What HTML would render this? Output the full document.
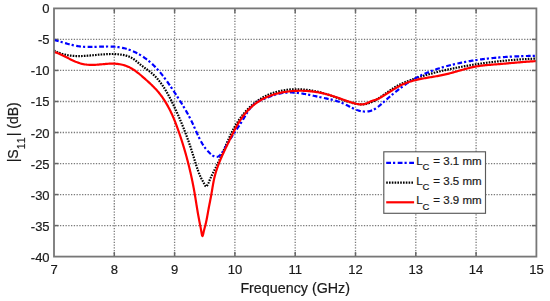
<!DOCTYPE html>
<html><head><meta charset="utf-8"><title>S11 vs Frequency</title>
<style>html,body{margin:0;padding:0;background:#fff;width:550px;height:301px;overflow:hidden}svg{display:block;filter:blur(0.35px)}</style>
</head><body>
<svg width="550" height="301" viewBox="0 0 550 301"><g stroke="#7a7a7a" stroke-width="1.3" stroke-dasharray="1.3 1.463" fill="none"><line x1="114.30" y1="8.40" x2="114.30" y2="256.60" stroke-dashoffset="-1.28"/><line x1="174.60" y1="8.40" x2="174.60" y2="256.60" stroke-dashoffset="-1.28"/><line x1="234.90" y1="8.40" x2="234.90" y2="256.60" stroke-dashoffset="-1.28"/><line x1="295.20" y1="8.40" x2="295.20" y2="256.60" stroke-dashoffset="-1.28"/><line x1="355.50" y1="8.40" x2="355.50" y2="256.60" stroke-dashoffset="-1.28"/><line x1="415.80" y1="8.40" x2="415.80" y2="256.60" stroke-dashoffset="-1.28"/><line x1="476.10" y1="8.40" x2="476.10" y2="256.60" stroke-dashoffset="-1.28"/><line x1="54.00" y1="225.58" x2="536.40" y2="225.58" stroke-dashoffset="-0.42"/><line x1="54.00" y1="194.55" x2="536.40" y2="194.55" stroke-dashoffset="-0.42"/><line x1="54.00" y1="163.53" x2="536.40" y2="163.53" stroke-dashoffset="-0.42"/><line x1="54.00" y1="132.50" x2="536.40" y2="132.50" stroke-dashoffset="-0.42"/><line x1="54.00" y1="101.48" x2="536.40" y2="101.48" stroke-dashoffset="-0.42"/><line x1="54.00" y1="70.45" x2="536.40" y2="70.45" stroke-dashoffset="-0.42"/><line x1="54.00" y1="39.42" x2="536.40" y2="39.42" stroke-dashoffset="-0.42"/></g>
<g stroke="#666" stroke-width="1.5" fill="none"><line x1="114.30" y1="256.60" x2="114.30" y2="252.10"/><line x1="114.30" y1="8.40" x2="114.30" y2="12.90"/><line x1="174.60" y1="256.60" x2="174.60" y2="252.10"/><line x1="174.60" y1="8.40" x2="174.60" y2="12.90"/><line x1="234.90" y1="256.60" x2="234.90" y2="252.10"/><line x1="234.90" y1="8.40" x2="234.90" y2="12.90"/><line x1="295.20" y1="256.60" x2="295.20" y2="252.10"/><line x1="295.20" y1="8.40" x2="295.20" y2="12.90"/><line x1="355.50" y1="256.60" x2="355.50" y2="252.10"/><line x1="355.50" y1="8.40" x2="355.50" y2="12.90"/><line x1="415.80" y1="256.60" x2="415.80" y2="252.10"/><line x1="415.80" y1="8.40" x2="415.80" y2="12.90"/><line x1="476.10" y1="256.60" x2="476.10" y2="252.10"/><line x1="476.10" y1="8.40" x2="476.10" y2="12.90"/><line x1="54.00" y1="225.58" x2="58.50" y2="225.58"/><line x1="536.40" y1="225.58" x2="531.90" y2="225.58"/><line x1="54.00" y1="194.55" x2="58.50" y2="194.55"/><line x1="536.40" y1="194.55" x2="531.90" y2="194.55"/><line x1="54.00" y1="163.53" x2="58.50" y2="163.53"/><line x1="536.40" y1="163.53" x2="531.90" y2="163.53"/><line x1="54.00" y1="132.50" x2="58.50" y2="132.50"/><line x1="536.40" y1="132.50" x2="531.90" y2="132.50"/><line x1="54.00" y1="101.48" x2="58.50" y2="101.48"/><line x1="536.40" y1="101.48" x2="531.90" y2="101.48"/><line x1="54.00" y1="70.45" x2="58.50" y2="70.45"/><line x1="536.40" y1="70.45" x2="531.90" y2="70.45"/><line x1="54.00" y1="39.42" x2="58.50" y2="39.42"/><line x1="536.40" y1="39.42" x2="531.90" y2="39.42"/></g>
<path d="M54.00,50.42 L54.97,50.95 L55.96,51.44 L56.95,51.91 L57.94,52.35 L58.94,52.75 L59.94,53.13 L60.94,53.48 L61.95,53.81 L62.95,54.11 L63.96,54.39 L64.97,54.64 L65.98,54.87 L67.00,55.07 L68.02,55.26 L69.03,55.42 L70.05,55.56 L71.08,55.69 L72.10,55.80 L73.12,55.88 L74.15,55.96 L75.18,56.01 L76.21,56.05 L77.24,56.08 L78.27,56.09 L79.30,56.09 L80.34,56.08 L81.37,56.05 L82.41,56.02 L83.45,55.97 L84.49,55.92 L85.53,55.86 L86.57,55.79 L87.61,55.72 L88.65,55.64 L89.69,55.55 L90.73,55.46 L91.78,55.37 L92.82,55.27 L93.86,55.17 L94.91,55.08 L95.95,54.98 L97.00,54.88 L98.04,54.78 L99.09,54.69 L100.13,54.60 L101.18,54.51 L102.22,54.43 L103.27,54.35 L104.31,54.28 L105.35,54.21 L106.40,54.15 L107.44,54.11 L108.48,54.07 L109.53,54.04 L110.57,54.02 L111.61,54.01 L112.65,54.02 L113.69,54.04 L114.73,54.07 L115.77,54.12 L116.80,54.18 L117.84,54.26 L118.87,54.36 L119.91,54.47 L120.94,54.61 L121.97,54.76 L123.00,54.94 L124.02,55.14 L125.03,55.37 L126.03,55.63 L127.02,55.92 L128.00,56.24 L128.97,56.59 L129.91,56.99 L130.84,57.42 L131.75,57.90 L132.64,58.42 L133.50,58.98 L134.34,59.59 L135.17,60.23 L135.98,60.89 L136.79,61.57 L137.59,62.26 L138.39,62.95 L139.19,63.64 L140.00,64.31 L140.83,64.96 L141.66,65.60 L142.49,66.23 L143.33,66.84 L144.18,67.45 L145.02,68.06 L145.87,68.66 L146.71,69.26 L147.54,69.86 L148.37,70.47 L149.19,71.09 L150.00,71.72 L150.80,72.36 L151.58,73.02 L152.35,73.69 L153.11,74.38 L153.85,75.08 L154.58,75.80 L155.30,76.53 L156.01,77.27 L156.70,78.02 L157.38,78.79 L158.05,79.57 L158.71,80.36 L159.36,81.17 L160.00,81.98 L160.63,82.80 L161.24,83.63 L161.85,84.48 L162.45,85.33 L163.04,86.19 L163.62,87.06 L164.19,87.94 L164.75,88.82 L165.30,89.71 L165.85,90.61 L166.39,91.51 L166.92,92.43 L167.44,93.34 L167.96,94.26 L168.47,95.19 L168.97,96.12 L169.47,97.05 L169.96,97.99 L170.44,98.93 L170.93,99.87 L171.40,100.82 L171.87,101.77 L172.34,102.72 L172.80,103.67 L173.26,104.62 L173.71,105.57 L174.17,106.52 L174.61,107.47 L175.06,108.42 L175.50,109.37 L175.94,110.32 L176.38,111.27 L176.81,112.22 L177.24,113.17 L177.66,114.12 L178.09,115.07 L178.51,116.02 L178.92,116.97 L179.34,117.92 L179.75,118.87 L180.16,119.82 L180.56,120.78 L180.97,121.73 L181.36,122.68 L181.76,123.64 L182.15,124.59 L182.55,125.55 L182.93,126.50 L183.32,127.46 L183.70,128.42 L184.08,129.38 L184.46,130.34 L184.83,131.30 L185.20,132.26 L185.57,133.22 L185.93,134.19 L186.30,135.15 L186.66,136.12 L187.01,137.09 L187.37,138.06 L187.72,139.03 L188.07,140.00 L188.42,140.98 L188.76,141.95 L189.10,142.93 L189.44,143.91 L189.78,144.90 L190.11,145.88 L190.45,146.87 L190.78,147.85 L191.10,148.85 L191.43,149.84 L191.75,150.83 L192.07,151.83 L192.39,152.83 L192.70,153.83 L193.01,154.84 L193.32,155.84 L193.63,156.85 L193.94,157.86 L194.24,158.87 L194.55,159.89 L194.85,160.90 L195.16,161.91 L195.47,162.92 L195.79,163.93 L196.10,164.94 L196.42,165.94 L196.75,166.94 L197.08,167.94 L197.42,168.93 L197.76,169.91 L198.12,170.89 L198.48,171.86 L198.85,172.83 L199.24,173.78 L199.63,174.73 L200.03,175.67 L200.45,176.59 L200.88,177.51 L201.33,178.42 L201.78,179.31 L202.26,180.19 L202.75,181.07 L203.25,181.96 L203.77,182.89 L204.30,183.89 L204.84,184.98 L205.39,186.02 L206.00,186.55 L206.67,186.21 L207.35,185.25 L207.94,184.13 L208.43,183.10 L208.84,182.14 L209.21,181.23 L209.56,180.34 L209.93,179.44 L210.34,178.52 L210.76,177.60 L211.20,176.66 L211.66,175.72 L212.12,174.77 L212.60,173.82 L213.08,172.87 L213.56,171.92 L214.03,170.97 L214.51,170.02 L214.98,169.08 L215.45,168.13 L215.91,167.19 L216.38,166.25 L216.84,165.30 L217.30,164.36 L217.75,163.42 L218.20,162.48 L218.65,161.54 L219.10,160.60 L219.54,159.65 L219.98,158.71 L220.41,157.77 L220.85,156.82 L221.28,155.87 L221.70,154.93 L222.12,153.97 L222.54,153.02 L222.96,152.07 L223.38,151.11 L223.79,150.16 L224.20,149.20 L224.61,148.24 L225.02,147.29 L225.43,146.33 L225.84,145.37 L226.25,144.41 L226.67,143.46 L227.08,142.50 L227.50,141.54 L227.92,140.59 L228.34,139.64 L228.77,138.69 L229.20,137.74 L229.64,136.79 L230.08,135.85 L230.52,134.90 L230.97,133.97 L231.43,133.03 L231.90,132.10 L232.37,131.17 L232.85,130.24 L233.33,129.32 L233.83,128.40 L234.33,127.49 L234.85,126.58 L235.37,125.67 L235.90,124.77 L236.45,123.88 L237.00,122.99 L237.56,122.11 L238.14,121.23 L238.72,120.36 L239.32,119.49 L239.92,118.64 L240.53,117.79 L241.16,116.94 L241.79,116.11 L242.44,115.28 L243.09,114.46 L243.76,113.65 L244.43,112.85 L245.11,112.06 L245.81,111.28 L246.51,110.51 L247.22,109.75 L247.94,108.99 L248.68,108.25 L249.42,107.52 L250.17,106.80 L250.93,106.10 L251.70,105.40 L252.48,104.72 L253.27,104.05 L254.07,103.39 L254.88,102.74 L255.70,102.11 L256.52,101.49 L257.36,100.89 L258.21,100.29 L259.06,99.72 L259.92,99.16 L260.80,98.61 L261.68,98.08 L262.57,97.56 L263.47,97.06 L264.38,96.57 L265.30,96.11 L266.23,95.65 L267.17,95.22 L268.11,94.80 L269.06,94.40 L270.02,94.01 L270.99,93.64 L271.97,93.28 L272.95,92.94 L273.94,92.62 L274.93,92.31 L275.93,92.02 L276.94,91.74 L277.95,91.48 L278.97,91.23 L279.99,91.00 L281.01,90.78 L282.04,90.58 L283.07,90.39 L284.11,90.22 L285.15,90.06 L286.19,89.91 L287.24,89.78 L288.28,89.66 L289.33,89.56 L290.38,89.47 L291.43,89.40 L292.49,89.34 L293.54,89.29 L294.59,89.26 L295.65,89.24 L296.70,89.23 L297.75,89.23 L298.80,89.25 L299.86,89.29 L300.91,89.33 L301.95,89.39 L303.00,89.46 L304.04,89.54 L305.08,89.64 L306.12,89.74 L307.16,89.86 L308.19,90.00 L309.22,90.14 L310.24,90.29 L311.27,90.46 L312.29,90.64 L313.31,90.82 L314.33,91.02 L315.34,91.23 L316.35,91.45 L317.36,91.68 L318.37,91.91 L319.37,92.16 L320.38,92.42 L321.38,92.68 L322.38,92.95 L323.38,93.24 L324.38,93.53 L325.37,93.83 L326.36,94.13 L327.36,94.44 L328.35,94.76 L329.34,95.09 L330.33,95.43 L331.31,95.77 L332.30,96.11 L333.28,96.46 L334.27,96.82 L335.25,97.18 L336.24,97.53 L337.22,97.89 L338.21,98.25 L339.19,98.61 L340.18,98.97 L341.17,99.33 L342.16,99.68 L343.14,100.03 L344.14,100.37 L345.13,100.71 L346.12,101.04 L347.12,101.37 L348.12,101.68 L349.12,101.99 L350.13,102.29 L351.13,102.57 L352.14,102.84 L353.16,103.10 L354.17,103.35 L355.19,103.57 L356.21,103.77 L357.23,103.95 L358.25,104.10 L359.27,104.21 L360.29,104.30 L361.31,104.34 L362.32,104.35 L363.34,104.31 L364.35,104.23 L365.36,104.10 L366.36,103.91 L367.36,103.68 L368.35,103.40 L369.34,103.07 L370.32,102.70 L371.30,102.30 L372.26,101.86 L373.22,101.40 L374.17,100.91 L375.11,100.39 L376.04,99.86 L376.97,99.31 L377.87,98.76 L378.77,98.19 L379.67,97.61 L380.55,97.03 L381.42,96.43 L382.29,95.84 L383.16,95.24 L384.02,94.63 L384.87,94.03 L385.73,93.42 L386.58,92.81 L387.43,92.21 L388.28,91.61 L389.13,91.01 L389.99,90.42 L390.84,89.83 L391.70,89.26 L392.56,88.69 L393.43,88.13 L394.31,87.58 L395.19,87.05 L396.08,86.53 L396.98,86.03 L397.89,85.54 L398.81,85.06 L399.73,84.60 L400.67,84.15 L401.60,83.72 L402.55,83.29 L403.50,82.88 L404.46,82.48 L405.42,82.08 L406.39,81.70 L407.36,81.32 L408.34,80.95 L409.31,80.58 L410.29,80.22 L411.27,79.86 L412.25,79.51 L413.24,79.16 L414.22,78.82 L415.21,78.48 L416.20,78.15 L417.19,77.82 L418.18,77.49 L419.17,77.17 L420.16,76.85 L421.16,76.54 L422.16,76.23 L423.15,75.92 L424.15,75.62 L425.15,75.32 L426.16,75.03 L427.16,74.74 L428.16,74.45 L429.17,74.17 L430.17,73.89 L431.18,73.61 L432.19,73.34 L433.20,73.07 L434.21,72.80 L435.22,72.54 L436.23,72.28 L437.25,72.03 L438.26,71.77 L439.28,71.52 L440.29,71.28 L441.31,71.03 L442.32,70.79 L443.34,70.55 L444.36,70.32 L445.38,70.09 L446.40,69.86 L447.42,69.63 L448.44,69.41 L449.46,69.19 L450.48,68.97 L451.50,68.75 L452.53,68.54 L453.55,68.33 L454.57,68.12 L455.60,67.91 L456.62,67.71 L457.64,67.51 L458.67,67.31 L459.69,67.11 L460.72,66.92 L461.74,66.72 L462.77,66.53 L463.79,66.35 L464.82,66.16 L465.85,65.98 L466.87,65.80 L467.90,65.62 L468.93,65.44 L469.95,65.27 L470.98,65.10 L472.01,64.93 L473.04,64.76 L474.07,64.59 L475.09,64.43 L476.12,64.27 L477.15,64.11 L478.18,63.95 L479.21,63.80 L480.24,63.65 L481.27,63.50 L482.30,63.35 L483.34,63.21 L484.37,63.06 L485.40,62.92 L486.43,62.78 L487.46,62.65 L488.50,62.51 L489.53,62.38 L490.56,62.25 L491.60,62.12 L492.63,62.00 L493.66,61.87 L494.70,61.75 L495.73,61.63 L496.77,61.51 L497.80,61.40 L498.84,61.29 L499.87,61.18 L500.91,61.07 L501.95,60.96 L502.98,60.86 L504.02,60.75 L505.06,60.65 L506.10,60.56 L507.14,60.46 L508.17,60.36 L509.21,60.27 L510.25,60.18 L511.29,60.10 L512.33,60.01 L513.37,59.93 L514.41,59.84 L515.45,59.76 L516.49,59.69 L517.53,59.61 L518.58,59.54 L519.62,59.47 L520.66,59.40 L521.70,59.33 L522.75,59.26 L523.79,59.20 L524.83,59.14 L525.88,59.08 L526.92,59.02 L527.97,58.97 L529.01,58.91 L530.06,58.86 L531.10,58.81 L532.15,58.77 L533.19,58.72 L534.24,58.68 L535.29,58.63 L536.30,58.60" fill="none" stroke="#000" stroke-width="2.2" stroke-dasharray="1.6 1.2"/>
<path d="M54.00,39.94 L54.96,40.19 L55.91,40.44 L56.86,40.70 L57.80,40.96 L58.75,41.23 L59.69,41.51 L60.63,41.78 L61.57,42.06 L62.51,42.34 L63.45,42.61 L64.39,42.89 L65.33,43.16 L66.26,43.43 L67.20,43.70 L68.14,43.96 L69.08,44.22 L70.02,44.47 L70.96,44.71 L71.90,44.94 L72.85,45.17 L73.79,45.38 L74.74,45.58 L75.69,45.77 L76.64,45.95 L77.59,46.11 L78.55,46.26 L79.51,46.39 L80.47,46.50 L81.43,46.60 L82.40,46.69 L83.37,46.76 L84.35,46.82 L85.32,46.86 L86.30,46.90 L87.28,46.93 L88.26,46.94 L89.24,46.95 L90.22,46.95 L91.21,46.94 L92.20,46.93 L93.18,46.91 L94.17,46.88 L95.16,46.85 L96.15,46.82 L97.14,46.79 L98.13,46.76 L99.12,46.72 L100.11,46.69 L101.10,46.65 L102.09,46.62 L103.08,46.59 L104.07,46.57 L105.05,46.55 L106.04,46.53 L107.03,46.52 L108.01,46.52 L108.99,46.53 L109.97,46.54 L110.95,46.56 L111.93,46.59 L112.91,46.64 L113.88,46.69 L114.85,46.76 L115.82,46.84 L116.79,46.94 L117.75,47.05 L118.71,47.18 L119.67,47.32 L120.62,47.48 L121.58,47.66 L122.52,47.86 L123.47,48.07 L124.41,48.30 L125.34,48.55 L126.27,48.81 L127.20,49.09 L128.12,49.39 L129.04,49.70 L129.95,50.03 L130.86,50.38 L131.76,50.74 L132.66,51.11 L133.55,51.50 L134.44,51.90 L135.32,52.32 L136.19,52.75 L137.06,53.20 L137.92,53.66 L138.78,54.13 L139.63,54.61 L140.47,55.11 L141.30,55.62 L142.13,56.14 L142.95,56.68 L143.76,57.22 L144.56,57.78 L145.36,58.35 L146.14,58.92 L146.92,59.51 L147.70,60.11 L148.46,60.72 L149.21,61.34 L149.96,61.97 L150.69,62.61 L151.42,63.26 L152.13,63.92 L152.84,64.58 L153.54,65.25 L154.24,65.94 L154.92,66.63 L155.60,67.32 L156.27,68.03 L156.93,68.74 L157.58,69.46 L158.23,70.19 L158.87,70.92 L159.51,71.66 L160.13,72.40 L160.76,73.15 L161.37,73.91 L161.98,74.67 L162.59,75.43 L163.19,76.20 L163.79,76.98 L164.38,77.76 L164.96,78.54 L165.54,79.33 L166.12,80.12 L166.69,80.91 L167.26,81.71 L167.83,82.51 L168.39,83.32 L168.95,84.12 L169.51,84.93 L170.06,85.74 L170.62,86.55 L171.17,87.36 L171.71,88.17 L172.26,88.99 L172.81,89.80 L173.35,90.62 L173.89,91.44 L174.43,92.25 L174.97,93.07 L175.51,93.89 L176.05,94.70 L176.58,95.52 L177.11,96.34 L177.65,97.16 L178.18,97.98 L178.70,98.80 L179.23,99.62 L179.75,100.44 L180.27,101.27 L180.79,102.09 L181.31,102.92 L181.82,103.75 L182.33,104.58 L182.83,105.41 L183.34,106.24 L183.84,107.08 L184.34,107.92 L184.83,108.75 L185.32,109.59 L185.81,110.44 L186.29,111.28 L186.77,112.13 L187.24,112.98 L187.72,113.83 L188.18,114.69 L188.65,115.54 L189.10,116.40 L189.56,117.27 L190.01,118.13 L190.45,119.00 L190.89,119.87 L191.32,120.75 L191.75,121.62 L192.18,122.50 L192.60,123.39 L193.01,124.28 L193.42,125.17 L193.82,126.06 L194.22,126.96 L194.62,127.86 L195.02,128.76 L195.41,129.66 L195.81,130.56 L196.21,131.46 L196.61,132.35 L197.01,133.25 L197.41,134.15 L197.82,135.04 L198.24,135.93 L198.66,136.82 L199.08,137.70 L199.52,138.58 L199.96,139.45 L200.42,140.32 L200.88,141.18 L201.35,142.04 L201.84,142.88 L202.34,143.73 L202.86,144.56 L203.38,145.38 L203.93,146.20 L204.49,147.00 L205.07,147.80 L205.66,148.58 L206.28,149.35 L206.91,150.11 L207.57,150.86 L208.25,151.60 L208.95,152.32 L209.67,153.03 L210.42,153.72 L211.19,154.40 L211.97,155.03 L212.78,155.60 L213.59,156.09 L214.41,156.49 L215.23,156.77 L216.05,156.91 L216.86,156.89 L217.66,156.72 L218.44,156.39 L219.19,155.92 L219.90,155.33 L220.59,154.64 L221.24,153.88 L221.86,153.07 L222.44,152.23 L223.00,151.37 L223.54,150.50 L224.05,149.62 L224.56,148.73 L225.05,147.85 L225.55,146.96 L226.04,146.08 L226.54,145.21 L227.04,144.35 L227.55,143.49 L228.06,142.64 L228.57,141.79 L229.09,140.95 L229.61,140.12 L230.13,139.29 L230.66,138.47 L231.19,137.65 L231.72,136.83 L232.25,136.02 L232.78,135.21 L233.32,134.40 L233.85,133.60 L234.39,132.79 L234.92,131.99 L235.46,131.19 L236.00,130.39 L236.53,129.58 L237.07,128.78 L237.61,127.98 L238.14,127.17 L238.67,126.36 L239.21,125.55 L239.74,124.74 L240.27,123.92 L240.79,123.10 L241.32,122.28 L241.84,121.45 L242.36,120.61 L242.87,119.77 L243.39,118.93 L243.89,118.08 L244.40,117.22 L244.91,116.37 L245.42,115.51 L245.93,114.65 L246.45,113.80 L246.97,112.96 L247.50,112.12 L248.04,111.29 L248.60,110.48 L249.16,109.68 L249.74,108.89 L250.33,108.12 L250.94,107.37 L251.57,106.65 L252.22,105.94 L252.90,105.26 L253.59,104.61 L254.32,103.99 L255.06,103.40 L255.84,102.84 L256.65,102.32 L257.48,101.83 L258.35,101.37 L259.23,100.94 L260.13,100.53 L261.04,100.13 L261.97,99.75 L262.90,99.37 L263.83,98.99 L264.75,98.61 L265.68,98.24 L266.61,97.86 L267.54,97.49 L268.47,97.13 L269.40,96.77 L270.33,96.42 L271.26,96.08 L272.19,95.74 L273.13,95.42 L274.06,95.11 L275.00,94.81 L275.93,94.53 L276.87,94.26 L277.81,94.00 L278.75,93.77 L279.69,93.55 L280.64,93.35 L281.58,93.17 L282.53,93.02 L283.49,92.88 L284.44,92.77 L285.39,92.67 L286.35,92.60 L287.31,92.54 L288.27,92.50 L289.23,92.48 L290.19,92.48 L291.16,92.49 L292.13,92.52 L293.09,92.56 L294.06,92.62 L295.03,92.69 L296.00,92.77 L296.97,92.87 L297.94,92.98 L298.91,93.09 L299.89,93.22 L300.86,93.36 L301.83,93.51 L302.81,93.67 L303.78,93.83 L304.75,94.00 L305.73,94.18 L306.70,94.37 L307.68,94.56 L308.65,94.75 L309.62,94.95 L310.59,95.15 L311.57,95.36 L312.54,95.57 L313.51,95.77 L314.48,95.98 L315.44,96.19 L316.41,96.40 L317.38,96.61 L318.34,96.82 L319.30,97.03 L320.27,97.23 L321.23,97.43 L322.18,97.62 L323.14,97.82 L324.10,98.01 L325.05,98.21 L326.00,98.41 L326.95,98.60 L327.90,98.81 L328.84,99.01 L329.78,99.22 L330.72,99.44 L331.66,99.66 L332.59,99.90 L333.53,100.14 L334.46,100.39 L335.38,100.65 L336.30,100.92 L337.22,101.20 L338.14,101.50 L339.05,101.81 L339.96,102.13 L340.87,102.48 L341.77,102.83 L342.67,103.21 L343.56,103.61 L344.46,104.02 L345.34,104.45 L346.23,104.89 L347.12,105.34 L348.00,105.79 L348.89,106.25 L349.77,106.71 L350.66,107.16 L351.55,107.61 L352.45,108.05 L353.35,108.48 L354.25,108.89 L355.16,109.28 L356.08,109.65 L357.01,110.00 L357.94,110.32 L358.88,110.60 L359.84,110.86 L360.80,111.07 L361.77,111.25 L362.75,111.39 L363.73,111.48 L364.72,111.54 L365.70,111.55 L366.67,111.51 L367.64,111.43 L368.59,111.30 L369.53,111.12 L370.46,110.89 L371.36,110.61 L372.25,110.28 L373.11,109.91 L373.96,109.49 L374.80,109.03 L375.61,108.53 L376.42,108.00 L377.21,107.44 L378.00,106.86 L378.77,106.26 L379.54,105.63 L380.29,104.99 L381.05,104.34 L381.80,103.69 L382.55,103.03 L383.29,102.37 L384.04,101.71 L384.79,101.05 L385.53,100.39 L386.28,99.74 L387.03,99.09 L387.77,98.44 L388.52,97.79 L389.27,97.15 L390.02,96.51 L390.77,95.87 L391.52,95.24 L392.27,94.60 L393.03,93.98 L393.78,93.35 L394.54,92.73 L395.30,92.12 L396.06,91.50 L396.82,90.90 L397.58,90.29 L398.35,89.69 L399.12,89.10 L399.89,88.51 L400.67,87.92 L401.44,87.34 L402.22,86.77 L403.01,86.20 L403.79,85.63 L404.58,85.07 L405.38,84.52 L406.17,83.97 L406.97,83.43 L407.78,82.90 L408.59,82.37 L409.40,81.85 L410.21,81.33 L411.03,80.82 L411.86,80.32 L412.69,79.83 L413.52,79.34 L414.36,78.86 L415.21,78.39 L416.06,77.92 L416.91,77.47 L417.77,77.02 L418.63,76.57 L419.50,76.14 L420.37,75.71 L421.25,75.29 L422.13,74.87 L423.02,74.47 L423.91,74.07 L424.80,73.67 L425.70,73.28 L426.60,72.90 L427.51,72.53 L428.41,72.16 L429.33,71.80 L430.24,71.44 L431.16,71.09 L432.08,70.75 L433.00,70.41 L433.93,70.08 L434.86,69.76 L435.79,69.44 L436.73,69.12 L437.66,68.81 L438.60,68.51 L439.54,68.21 L440.49,67.92 L441.43,67.63 L442.38,67.35 L443.33,67.07 L444.28,66.80 L445.23,66.53 L446.18,66.27 L447.13,66.01 L448.09,65.76 L449.05,65.51 L450.00,65.27 L450.96,65.03 L451.92,64.79 L452.88,64.56 L453.84,64.33 L454.80,64.11 L455.76,63.89 L456.72,63.67 L457.68,63.46 L458.64,63.25 L459.60,63.05 L460.56,62.85 L461.52,62.65 L462.48,62.46 L463.44,62.27 L464.40,62.08 L465.36,61.90 L466.32,61.72 L467.28,61.54 L468.24,61.37 L469.20,61.20 L470.16,61.04 L471.13,60.87 L472.09,60.71 L473.05,60.56 L474.01,60.41 L474.98,60.26 L475.94,60.11 L476.90,59.97 L477.87,59.83 L478.83,59.69 L479.79,59.56 L480.76,59.43 L481.72,59.30 L482.69,59.17 L483.65,59.05 L484.62,58.93 L485.58,58.82 L486.55,58.70 L487.51,58.59 L488.48,58.48 L489.45,58.38 L490.41,58.27 L491.38,58.17 L492.35,58.08 L493.32,57.98 L494.29,57.89 L495.25,57.80 L496.22,57.71 L497.19,57.62 L498.16,57.54 L499.13,57.46 L500.10,57.38 L501.08,57.31 L502.05,57.23 L503.02,57.16 L503.99,57.09 L504.97,57.02 L505.94,56.96 L506.91,56.89 L507.89,56.83 L508.86,56.77 L509.84,56.72 L510.81,56.66 L511.79,56.61 L512.77,56.55 L513.74,56.50 L514.72,56.46 L515.70,56.41 L516.68,56.37 L517.66,56.32 L518.64,56.28 L519.62,56.24 L520.60,56.20 L521.58,56.17 L522.56,56.13 L523.55,56.10 L524.53,56.06 L525.51,56.03 L526.50,56.00 L527.48,55.98 L528.47,55.95 L529.45,55.92 L530.44,55.90 L531.43,55.88 L532.42,55.85 L533.41,55.83 L534.40,55.81 L535.39,55.79 L536.30,55.78" fill="none" stroke="#0000ff" stroke-width="2.2" stroke-dasharray="4.8 2 2.2 2.5"/>
<path d="M54.00,52.01 L55.16,52.32 L56.30,52.67 L57.43,53.06 L58.53,53.48 L59.62,53.93 L60.70,54.40 L61.76,54.89 L62.81,55.40 L63.86,55.92 L64.90,56.46 L65.95,57.00 L66.99,57.54 L68.03,58.09 L69.08,58.63 L70.14,59.16 L71.21,59.69 L72.28,60.20 L73.36,60.70 L74.45,61.18 L75.54,61.65 L76.64,62.09 L77.75,62.50 L78.87,62.89 L79.99,63.25 L81.13,63.58 L82.26,63.87 L83.41,64.13 L84.56,64.34 L85.72,64.52 L86.89,64.66 L88.06,64.76 L89.24,64.83 L90.42,64.88 L91.60,64.89 L92.78,64.88 L93.97,64.85 L95.16,64.80 L96.35,64.74 L97.54,64.66 L98.73,64.57 L99.91,64.47 L101.10,64.36 L102.28,64.25 L103.45,64.14 L104.63,64.03 L105.79,63.93 L106.96,63.83 L108.12,63.75 L109.29,63.68 L110.45,63.63 L111.62,63.60 L112.80,63.60 L113.98,63.63 L115.16,63.69 L116.35,63.78 L117.55,63.90 L118.74,64.06 L119.93,64.26 L121.11,64.49 L122.28,64.75 L123.44,65.05 L124.59,65.39 L125.72,65.76 L126.83,66.18 L127.91,66.63 L128.98,67.11 L130.03,67.63 L131.05,68.18 L132.06,68.76 L133.06,69.37 L134.04,70.00 L135.00,70.66 L135.95,71.34 L136.89,72.04 L137.82,72.76 L138.75,73.49 L139.66,74.24 L140.57,75.00 L141.47,75.77 L142.37,76.54 L143.27,77.33 L144.16,78.11 L145.05,78.90 L145.95,79.70 L146.84,80.49 L147.72,81.29 L148.61,82.10 L149.48,82.91 L150.36,83.72 L151.22,84.54 L152.08,85.37 L152.93,86.20 L153.76,87.05 L154.59,87.90 L155.41,88.76 L156.21,89.62 L157.00,90.50 L157.78,91.39 L158.54,92.29 L159.28,93.20 L160.01,94.12 L160.73,95.05 L161.43,95.99 L162.12,96.94 L162.79,97.90 L163.45,98.87 L164.10,99.85 L164.73,100.84 L165.35,101.83 L165.96,102.83 L166.56,103.84 L167.14,104.86 L167.72,105.89 L168.28,106.92 L168.83,107.96 L169.38,109.00 L169.91,110.06 L170.43,111.11 L170.94,112.18 L171.44,113.25 L171.94,114.32 L172.42,115.40 L172.90,116.48 L173.37,117.57 L173.83,118.67 L174.28,119.76 L174.73,120.86 L175.17,121.96 L175.60,123.07 L176.03,124.18 L176.45,125.29 L176.86,126.41 L177.27,127.52 L177.68,128.64 L178.08,129.76 L178.47,130.88 L178.86,132.00 L179.25,133.12 L179.63,134.24 L180.01,135.37 L180.39,136.49 L180.76,137.62 L181.13,138.74 L181.49,139.87 L181.85,140.99 L182.21,142.12 L182.57,143.24 L182.92,144.37 L183.26,145.50 L183.61,146.63 L183.95,147.76 L184.28,148.89 L184.61,150.02 L184.94,151.15 L185.27,152.28 L185.59,153.42 L185.91,154.55 L186.23,155.68 L186.54,156.82 L186.84,157.96 L187.15,159.09 L187.45,160.23 L187.75,161.37 L188.04,162.51 L188.33,163.65 L188.62,164.79 L188.90,165.94 L189.18,167.08 L189.46,168.23 L189.74,169.37 L190.01,170.52 L190.27,171.67 L190.54,172.82 L190.80,173.97 L191.05,175.12 L191.30,176.27 L191.55,177.43 L191.80,178.58 L192.04,179.74 L192.28,180.90 L192.52,182.06 L192.75,183.22 L192.98,184.38 L193.21,185.54 L193.43,186.71 L193.65,187.87 L193.87,189.04 L194.08,190.21 L194.29,191.38 L194.50,192.55 L194.70,193.73 L194.90,194.90 L195.10,196.08 L195.29,197.25 L195.48,198.43 L195.67,199.61 L195.86,200.79 L196.05,201.97 L196.24,203.14 L196.42,204.31 L196.61,205.49 L196.80,206.65 L196.99,207.82 L197.18,208.98 L197.37,210.14 L197.56,211.29 L197.76,212.44 L197.96,213.59 L198.16,214.73 L198.37,215.88 L198.58,217.02 L198.79,218.16 L199.00,219.30 L199.22,220.45 L199.44,221.60 L199.66,222.75 L199.88,223.90 L200.11,225.06 L200.34,226.22 L200.58,227.40 L200.82,228.62 L201.05,229.90 L201.29,231.25 L201.53,232.67 L201.77,234.02 L202.02,235.14 L202.27,235.85 L202.53,235.99 L202.80,235.50 L203.08,234.54 L203.37,233.27 L203.67,231.87 L203.99,230.49 L204.31,229.21 L204.63,227.99 L204.95,226.81 L205.25,225.67 L205.54,224.53 L205.82,223.38 L206.07,222.24 L206.32,221.10 L206.56,219.95 L206.78,218.81 L207.00,217.67 L207.21,216.52 L207.42,215.37 L207.62,214.23 L207.83,213.08 L208.03,211.93 L208.24,210.77 L208.45,209.62 L208.66,208.47 L208.88,207.31 L209.11,206.15 L209.33,204.99 L209.56,203.83 L209.79,202.67 L210.02,201.50 L210.25,200.33 L210.47,199.17 L210.69,198.00 L210.91,196.83 L211.13,195.65 L211.34,194.48 L211.54,193.30 L211.74,192.13 L211.94,190.95 L212.13,189.77 L212.33,188.60 L212.52,187.42 L212.72,186.25 L212.93,185.07 L213.13,183.90 L213.35,182.74 L213.57,181.57 L213.80,180.41 L214.05,179.25 L214.30,178.09 L214.57,176.94 L214.85,175.80 L215.15,174.66 L215.47,173.52 L215.79,172.39 L216.13,171.27 L216.49,170.15 L216.86,169.03 L217.23,167.91 L217.63,166.81 L218.03,165.70 L218.44,164.60 L218.86,163.50 L219.30,162.40 L219.74,161.31 L220.19,160.22 L220.65,159.14 L221.11,158.05 L221.59,156.97 L222.07,155.89 L222.55,154.82 L223.04,153.74 L223.54,152.67 L224.04,151.60 L224.55,150.53 L225.06,149.46 L225.57,148.39 L226.08,147.33 L226.60,146.26 L227.11,145.20 L227.63,144.14 L228.15,143.07 L228.67,142.01 L229.19,140.95 L229.71,139.88 L230.22,138.82 L230.74,137.76 L231.25,136.69 L231.77,135.63 L232.29,134.57 L232.81,133.51 L233.33,132.46 L233.86,131.40 L234.40,130.35 L234.94,129.31 L235.49,128.27 L236.05,127.23 L236.62,126.20 L237.20,125.17 L237.79,124.15 L238.40,123.14 L239.01,122.13 L239.64,121.14 L240.29,120.15 L240.95,119.16 L241.62,118.19 L242.31,117.23 L243.02,116.28 L243.74,115.34 L244.47,114.41 L245.22,113.50 L245.98,112.60 L246.76,111.71 L247.55,110.84 L248.36,109.98 L249.18,109.14 L250.01,108.31 L250.86,107.50 L251.73,106.71 L252.61,105.94 L253.51,105.18 L254.42,104.45 L255.35,103.74 L256.29,103.04 L257.24,102.37 L258.21,101.72 L259.20,101.09 L260.20,100.49 L261.21,99.90 L262.24,99.34 L263.27,98.79 L264.32,98.26 L265.38,97.76 L266.45,97.27 L267.54,96.81 L268.63,96.36 L269.73,95.93 L270.84,95.52 L271.95,95.13 L273.08,94.76 L274.21,94.41 L275.35,94.07 L276.50,93.75 L277.65,93.45 L278.81,93.16 L279.97,92.90 L281.14,92.65 L282.31,92.41 L283.48,92.20 L284.66,91.99 L285.83,91.81 L287.01,91.64 L288.20,91.48 L289.38,91.34 L290.56,91.22 L291.75,91.11 L292.93,91.02 L294.11,90.93 L295.29,90.87 L296.48,90.82 L297.66,90.78 L298.84,90.76 L300.02,90.75 L301.20,90.75 L302.38,90.77 L303.56,90.81 L304.74,90.85 L305.91,90.91 L307.09,90.99 L308.26,91.08 L309.43,91.18 L310.60,91.29 L311.77,91.42 L312.94,91.57 L314.11,91.72 L315.27,91.89 L316.43,92.07 L317.59,92.27 L318.75,92.47 L319.91,92.69 L321.06,92.93 L322.21,93.17 L323.36,93.43 L324.51,93.70 L325.65,93.99 L326.79,94.28 L327.93,94.59 L329.07,94.91 L330.20,95.24 L331.33,95.58 L332.45,95.94 L333.58,96.30 L334.70,96.68 L335.82,97.05 L336.94,97.44 L338.06,97.83 L339.18,98.22 L340.30,98.62 L341.41,99.02 L342.53,99.42 L343.66,99.82 L344.78,100.21 L345.90,100.60 L347.03,100.99 L348.16,101.37 L349.29,101.75 L350.43,102.12 L351.57,102.48 L352.71,102.83 L353.86,103.16 L355.01,103.47 L356.16,103.74 L357.31,103.98 L358.45,104.16 L359.60,104.29 L360.74,104.35 L361.87,104.34 L363.00,104.25 L364.12,104.07 L365.23,103.79 L366.34,103.41 L367.43,102.94 L368.52,102.42 L369.61,101.88 L370.72,101.38 L371.83,100.93 L372.96,100.56 L374.09,100.21 L375.22,99.88 L376.33,99.52 L377.41,99.11 L378.47,98.65 L379.50,98.14 L380.52,97.59 L381.53,97.01 L382.53,96.41 L383.53,95.80 L384.52,95.18 L385.52,94.55 L386.52,93.91 L387.52,93.27 L388.52,92.63 L389.52,91.99 L390.53,91.34 L391.53,90.71 L392.55,90.07 L393.56,89.44 L394.58,88.82 L395.60,88.21 L396.63,87.61 L397.66,87.03 L398.70,86.45 L399.75,85.90 L400.80,85.36 L401.86,84.84 L402.93,84.34 L404.00,83.87 L405.08,83.41 L406.17,82.98 L407.27,82.57 L408.37,82.18 L409.48,81.81 L410.60,81.45 L411.72,81.12 L412.85,80.80 L413.98,80.49 L415.11,80.20 L416.26,79.92 L417.40,79.65 L418.55,79.40 L419.71,79.15 L420.86,78.92 L422.02,78.69 L423.19,78.47 L424.35,78.26 L425.52,78.05 L426.69,77.85 L427.86,77.65 L429.03,77.45 L430.20,77.25 L431.38,77.06 L432.55,76.86 L433.73,76.67 L434.90,76.47 L436.07,76.27 L437.24,76.06 L438.41,75.85 L439.58,75.64 L440.75,75.41 L441.92,75.18 L443.08,74.94 L444.24,74.69 L445.39,74.43 L446.55,74.16 L447.70,73.88 L448.85,73.59 L449.99,73.29 L451.13,72.99 L452.28,72.68 L453.41,72.36 L454.55,72.04 L455.69,71.72 L456.83,71.39 L457.96,71.06 L459.09,70.74 L460.23,70.41 L461.36,70.09 L462.50,69.76 L463.63,69.44 L464.77,69.13 L465.91,68.82 L467.05,68.52 L468.19,68.22 L469.33,67.94 L470.47,67.66 L471.62,67.39 L472.77,67.14 L473.92,66.90 L475.07,66.67 L476.23,66.45 L477.39,66.25 L478.56,66.06 L479.72,65.89 L480.90,65.74 L482.07,65.59 L483.25,65.45 L484.42,65.33 L485.60,65.21 L486.79,65.10 L487.97,64.99 L489.15,64.89 L490.34,64.80 L491.52,64.70 L492.70,64.61 L493.89,64.52 L495.07,64.43 L496.25,64.33 L497.43,64.24 L498.61,64.14 L499.79,64.04 L500.97,63.94 L502.15,63.84 L503.33,63.74 L504.50,63.63 L505.68,63.53 L506.86,63.42 L508.03,63.32 L509.21,63.21 L510.38,63.11 L511.56,63.00 L512.73,62.90 L513.91,62.80 L515.08,62.69 L516.26,62.59 L517.43,62.49 L518.61,62.39 L519.78,62.29 L520.96,62.19 L522.14,62.09 L523.31,62.00 L524.49,61.90 L525.67,61.81 L526.85,61.72 L528.03,61.63 L529.21,61.55 L530.39,61.47 L531.57,61.39 L532.75,61.31 L533.94,61.24 L535.12,61.17 L536.30,61.10" fill="none" stroke="#ff0000" stroke-width="2.2" stroke-linejoin="round"/>
<rect x="54.00" y="8.40" width="482.40" height="248.20" fill="none" stroke="#777" stroke-width="1.8"/>
<g font-family='"Liberation Sans", sans-serif' font-size="13" fill="#1a1a1a" stroke="#1a1a1a" stroke-width="0.2"><text x="54.00" y="274" text-anchor="middle">7</text><text x="114.30" y="274" text-anchor="middle">8</text><text x="174.60" y="274" text-anchor="middle">9</text><text x="234.90" y="274" text-anchor="middle">10</text><text x="295.20" y="274" text-anchor="middle">11</text><text x="355.50" y="274" text-anchor="middle">12</text><text x="415.80" y="274" text-anchor="middle">13</text><text x="476.10" y="274" text-anchor="middle">14</text><text x="536.40" y="274" text-anchor="middle">15</text><text x="49.6" y="261.60" text-anchor="end">-40</text><text x="49.6" y="230.58" text-anchor="end">-35</text><text x="49.6" y="199.55" text-anchor="end">-30</text><text x="49.6" y="168.53" text-anchor="end">-25</text><text x="49.6" y="137.50" text-anchor="end">-20</text><text x="49.6" y="106.48" text-anchor="end">-15</text><text x="49.6" y="75.45" text-anchor="end">-10</text><text x="49.6" y="44.42" text-anchor="end">-5</text><text x="49.6" y="13.40" text-anchor="end">0</text></g>
<text x="295.2" y="292.7" text-anchor="middle" font-family='"Liberation Sans", sans-serif' font-size="14.3" fill="#1a1a1a" stroke="#1a1a1a" stroke-width="0.2">Frequency (GHz)</text>
<text transform="rotate(-90)" x="-162.3" y="18.35" font-family='"Liberation Sans", sans-serif' font-size="14" fill="#1a1a1a" stroke="#1a1a1a" stroke-width="0.2">|S<tspan font-size="10.5" dy="6.15" letter-spacing="1.1">11</tspan><tspan dy="-6.15">| (dB)</tspan></text>
<rect x="383.80" y="151.80" width="101.70" height="61.50" fill="#fff" stroke="#5a5a5a" stroke-width="1.15"/><line x1="386.2" y1="162.80" x2="414.1" y2="162.80" stroke="#0000ff" stroke-width="2.2" stroke-dasharray="4.8 2 2.2 2.5"/><text x="416.2" y="164.60" font-family='"Liberation Sans", sans-serif' font-size="11.5" fill="#1a1a1a" stroke="#1a1a1a" stroke-width="0.2">L<tspan font-size="9.5" dy="5.5">C</tspan><tspan dy="-5.5" dx="0.7"> = 3.1 mm</tspan></text><line x1="386.2" y1="182.70" x2="414.1" y2="182.70" stroke="#000" stroke-width="2.2" stroke-dasharray="1.6 1.2"/><text x="416.2" y="184.50" font-family='"Liberation Sans", sans-serif' font-size="11.5" fill="#1a1a1a" stroke="#1a1a1a" stroke-width="0.2">L<tspan font-size="9.5" dy="5.5">C</tspan><tspan dy="-5.5" dx="0.7"> = 3.5 mm</tspan></text><line x1="386.2" y1="202.30" x2="414.1" y2="202.30" stroke="#ff0000" stroke-width="2.2"/><text x="416.2" y="204.30" font-family='"Liberation Sans", sans-serif' font-size="11.5" fill="#1a1a1a" stroke="#1a1a1a" stroke-width="0.2">L<tspan font-size="9.5" dy="5.5">C</tspan><tspan dy="-5.5" dx="0.7"> = 3.9 mm</tspan></text></svg>
</body></html>
